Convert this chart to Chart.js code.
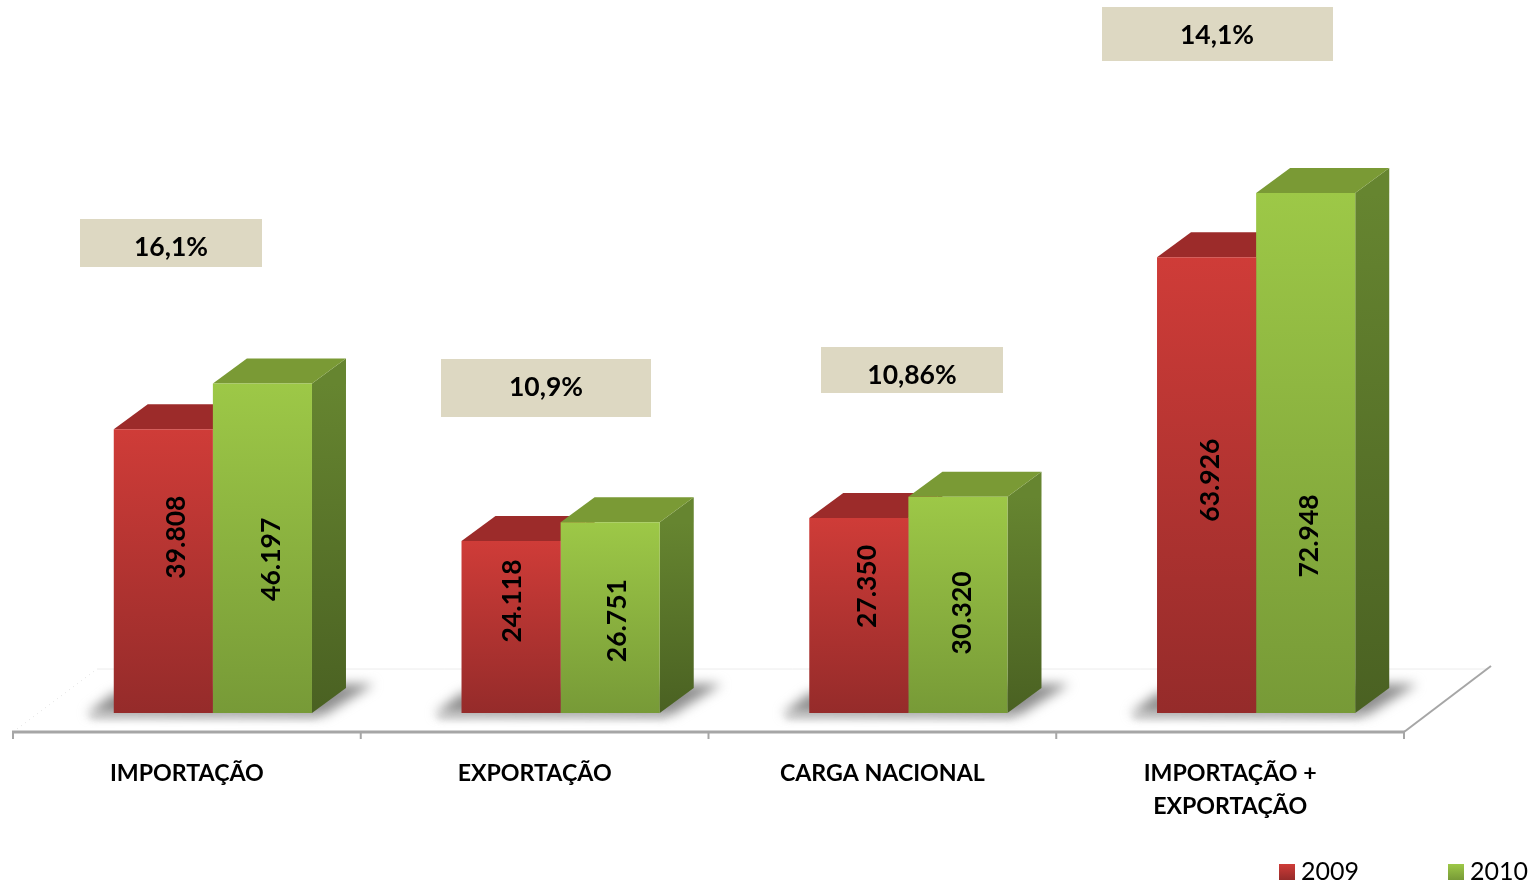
<!DOCTYPE html>
<html>
<head>
<meta charset="utf-8">
<style>
  html, body { margin: 0; padding: 0; background: #fff; }
  canvas { display: block; }
</style>
<script src="https://cdn.jsdelivr.net/npm/chart.js@4/dist/chart.umd.min.js"></script>
</head>
<body>
<canvas id="cargoChart" width="1530" height="883"></canvas>
<script>
const categories = [
  'IMPORTAÇÃO',
  'EXPORTAÇÃO',
  'CARGA NACIONAL',
  ['IMPORTAÇÃO +', 'EXPORTAÇÃO']
];
const years = ['2009', '2010'];
const values2009 = [39808, 24118, 27350, 63926];
const values2010 = [46197, 26751, 30320, 72948];
const growthLabels = ['16,1%', '10,9%', '10,86%', '14,1%'];

const FONT = 'Lato, Carlito, sans-serif';
const DEPTH_X = 34;
const DEPTH_Y = 25;

// value label nudges from the middle of each bar, placed by hand in the original
const labelNudge = [
  [[13, -34], [1, -26], [9, -29], [4, -5]],
  [[9, 11], [7, 3], [5, 8], [4, 83]]
];

const growthBoxes = [
  { x: 80, y: 219, w: 182, h: 48, textX: 171, textY: 247 },
  { x: 441, y: 359, w: 210, h: 58, textX: 546, textY: 387 },
  { x: 821, y: 347, w: 182, h: 46, textX: 912, textY: 375 },
  { x: 1102, y: 7, w: 231, h: 54, textX: 1217, textY: 35 }
];

const legendSpots = [
  { x: 1279, y: 864, textX: 1301 },
  { x: 1448, y: 864, textX: 1470 }
];

const palette = [
  { top: '#cf3c38', bottom: '#952b2a', cap: '#9c2b2a', sideTop: '#7e2524', sideBottom: '#6a1f1e' },
  { top: '#9dc847', bottom: '#779a37', cap: '#7a9a35', sideTop: '#668530', sideBottom: '#4a6122' }
];

function barGradient(context) {
  const chart = context.chart;
  const p = palette[context.datasetIndex];
  if (context.raw === undefined || !chart.chartArea) return p.top;
  const y = chart.scales.y;
  const y0 = y.getPixelForValue(context.raw);
  const y1 = y.getPixelForValue(0);
  if (!isFinite(y0) || !isFinite(y1)) return p.top;
  const g = chart.ctx.createLinearGradient(0, y0, 0, y1);
  g.addColorStop(0, p.top);
  g.addColorStop(1, p.bottom);
  return g;
}

function poly(ctx, pts) {
  ctx.beginPath();
  pts.forEach((p, i) => i ? ctx.lineTo(p[0], p[1]) : ctx.moveTo(p[0], p[1]));
  ctx.closePath();
}

// floor, axis line and blurred shadows under the bars
const floorPlugin = {
  id: 'floor',
  beforeDatasetsDraw(chart) {
    const ctx = chart.ctx;
    const area = chart.chartArea;
    const base = chart.scales.y.getPixelForValue(0);
    const catW = area.width / categories.length;
    const left = area.left - 26;
    const right = left + catW * categories.length;
    const axisY = area.bottom;
    ctx.save();

    ctx.strokeStyle = '#ececec';
    ctx.lineWidth = 1;
    ctx.beginPath();
    ctx.moveTo(left + 84, axisY - 63);
    ctx.lineTo(right + 84, axisY - 63);
    ctx.stroke();

    ctx.setLineDash([1, 4]);
    ctx.strokeStyle = '#e2e2e2';
    ctx.beginPath();
    ctx.moveTo(left + 4, axisY - 3);
    ctx.lineTo(left + 84, axisY - 63);
    ctx.stroke();
    ctx.setLineDash([]);

    ctx.strokeStyle = '#a6a6a6';
    ctx.lineWidth = 2;
    ctx.beginPath();
    ctx.moveTo(right, axisY);
    ctx.lineTo(right + 87, axisY - 66);
    ctx.stroke();

    ctx.lineWidth = 3;
    ctx.beginPath();
    ctx.moveTo(left - 1, axisY);
    ctx.lineTo(right + 1, axisY);
    ctx.stroke();
    ctx.lineWidth = 2;
    for (let i = 0; i <= categories.length; i++) {
      const x = left + i * catW;
      ctx.beginPath();
      ctx.moveTo(x, axisY);
      ctx.lineTo(x, axisY + 7);
      ctx.stroke();
    }

    const red = chart.getDatasetMeta(0).data;
    const green = chart.getDatasetMeta(1).data;
    red.forEach((bar, i) => {
      const l = bar.x - bar.width / 2;
      const r = green[i].x + green[i].width / 2;
      ctx.fillStyle = '#dedede';
      ctx.filter = 'blur(3px)';
      poly(ctx, [[l - 26, base + 1], [r + 10, base + 1], [r + 4, base + 7], [l - 22, base + 7]]);
      ctx.fill();
      ctx.filter = 'blur(6px)';
      ctx.fillStyle = '#8e8e8e';
      poly(ctx, [[l - 27, base + 1], [l, base - 20], [r + 30, base - 29], [r + 62, base - 29], [r + 12, base + 2]]);
      ctx.fill();
      ctx.filter = 'none';
    });

    // caps and side faces of each bar, back to front
    chart.data.datasets.forEach((ds, di) => {
      const p = palette[di];
      chart.getDatasetMeta(di).data.forEach(bar => {
        const l = bar.x - bar.width / 2;
        const r = bar.x + bar.width / 2;
        const g = ctx.createLinearGradient(0, bar.y, 0, base);
        g.addColorStop(0, p.sideTop);
        g.addColorStop(1, p.sideBottom);
        ctx.fillStyle = g;
        poly(ctx, [[r, bar.y], [r + DEPTH_X, bar.y - DEPTH_Y], [r + DEPTH_X, base - DEPTH_Y], [r, base]]);
        ctx.fill();
        ctx.fillStyle = p.cap;
        poly(ctx, [[l, bar.y], [l + DEPTH_X, bar.y - DEPTH_Y], [r + DEPTH_X, bar.y - DEPTH_Y], [r, bar.y]]);
        ctx.fill();
      });
    });
    ctx.restore();
  }
};

// rotated value labels, beige growth boxes and the legend
const notesPlugin = {
  id: 'notes',
  afterDatasetsDraw(chart) {
    const ctx = chart.ctx;
    const base = chart.scales.y.getPixelForValue(0);
    ctx.save();
    ctx.textAlign = 'center';
    ctx.textBaseline = 'middle';
    ctx.fillStyle = '#000';
    chart.data.datasets.forEach((ds, di) => {
      chart.getDatasetMeta(di).data.forEach((bar, i) => {
        const n = labelNudge[di][i];
        ctx.save();
        ctx.translate(bar.x + n[0], (bar.y + base) / 2 + n[1]);
        ctx.rotate(-Math.PI / 2);
        ctx.font = 'bold 26.5px ' + FONT;
        ctx.fillText(ds.data[i].toLocaleString('de-DE'), 0, 0);
        ctx.restore();
      });
    });
    growthBoxes.forEach((b, i) => {
      ctx.fillStyle = '#ddd8c2';
      ctx.fillRect(b.x, b.y, b.w, b.h);
      ctx.fillStyle = '#000';
      ctx.font = 'bold 26.5px ' + FONT;
      ctx.fillText(growthLabels[i], b.textX, b.textY);
    });
    ctx.textAlign = 'left';
    legendSpots.forEach((s, i) => {
      const g = ctx.createLinearGradient(0, s.y, 0, s.y + 16);
      g.addColorStop(0, palette[i].top);
      g.addColorStop(1, palette[i].bottom);
      ctx.fillStyle = g;
      ctx.fillRect(s.x, s.y, 16, 16);
      ctx.fillStyle = '#000';
      ctx.font = '25px ' + FONT;
      ctx.fillText(years[i], s.textX, s.y + 8);
    });
    ctx.restore();
  }
};

const cv = document.getElementById('cargoChart');

new Chart(cv, {
  type: 'bar',
  data: {
    labels: categories,
    datasets: [
      { label: years[0], data: values2009, backgroundColor: barGradient },
      { label: years[1], data: values2010, backgroundColor: barGradient }
    ]
  },
  options: {
    responsive: false,
    animation: false,
    devicePixelRatio: 1,
    categoryPercentage: 0.57,
    barPercentage: 1,
    layout: { padding: 0 },
    scales: {
      x: {
        grid: { display: false },
        border: { display: false },
        ticks: {
          autoSkip: false,
          maxRotation: 0,
          minRotation: 0,
          labelOffset: -26,
          padding: 17,
          color: '#000',
          font: { family: FONT, size: 23.2, weight: 'bold', lineHeight: 1.42 }
        },
        afterFit(scale) { scale.height = 151; }
      },
      y: {
        min: -2665,
        max: 100000,
        grid: { display: false },
        border: { display: false },
        ticks: { display: false },
        afterFit(scale) { scale.width = 39; }
      },
      yRight: {
        position: 'right',
        min: 0,
        max: 1,
        grid: { display: false },
        border: { display: false },
        ticks: { display: false },
        afterFit(scale) { scale.width = 100; }
      }
    },
    plugins: {
      tooltip: { enabled: false },
      legend: { display: false }
    }
  },
  plugins: [floorPlugin, notesPlugin]
});
</script>
</body>
</html>
